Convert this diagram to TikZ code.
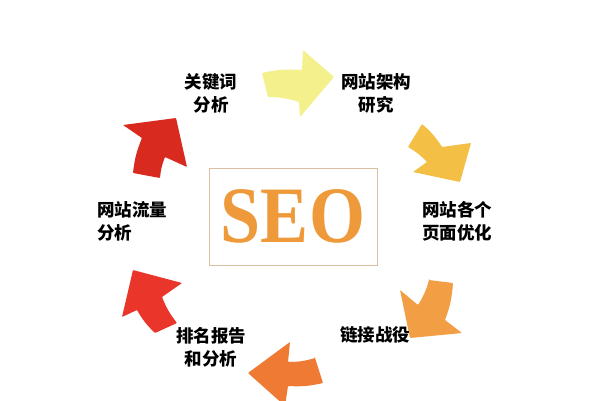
\documentclass[tikz,border=0pt]{standalone}
\usepackage{fontspec}
\setmainfont{Liberation Serif}
\newfontfamily\cjk{Noto Sans CJK SC}
\definecolor{arrowA}{HTML}{F4F08C}
\definecolor{arrowB}{HTML}{F3BF45}
\definecolor{arrowC}{HTML}{F29E45}
\definecolor{arrowD}{HTML}{EE7A33}
\definecolor{arrowE}{HTML}{E9352A}
\definecolor{arrowF}{HTML}{D82A1F}
\definecolor{seotext}{HTML}{EE9A3A}
\definecolor{boxline}{HTML}{DCBFA2}
\begin{document}
\begin{tikzpicture}[x=1pt,y=-1pt,
		lbl/.style={font=\cjk\bfseries\fontsize{17.5}{23}\selectfont,align=center,inner sep=0pt},
		arw/.style={rounded corners=0.8pt}]
		\useasboundingbox (0,0) rectangle (600,400);
		\clip (0,0) rectangle (600,400);
		\fill[white] (0,0) rectangle (600,400);
		\fill[arw,arrowA] (262,73) to[bend left=8] (302,70) -- (303,50) -- (334,77) -- (300,117) -- (299,102) to[bend right=8] (268,97) -- cycle;
		\fill[arw,arrowB] (422,124) to[bend left=8] (442,147) -- (471,143) -- (460,182) -- (413,172) -- (427,162) to[bend right=8] (408,147) -- cycle;
		\fill[arw,arrowC] (429,280) -- (453,283) to[bend left=8] (445,320) -- (462,333) -- (410,338) -- (400,290) -- (418,305) to[bend right=8] cycle;
		\fill[arw,arrowD] (315,358) -- (323,383) to[bend left=8] (288,386) -- (285,406) -- (248,373) -- (290,342) -- (288,362) to[bend right=8] cycle;
		\fill[arw,arrowE] (155,333) to[bend left=8] (137,310) -- (122,317) -- (133,270) -- (182,283) -- (162,297) to[bend right=8] (177,323) -- cycle;
		\fill[arw,arrowF] (133,173) to[bend left=8] (142,138) -- (123,125) -- (176,118) -- (187,167) -- (165,157) to[bend right=8] (160,178) -- cycle;
		\node[draw=boxline,line width=0.8pt,minimum width=168pt,minimum height=97pt,inner sep=0pt,
			text=seotext,font=\bfseries\fontsize{80}{80}\selectfont] (seo) at (293,216.5) {\scalebox{0.9}[1]{SEO}};
		\node[lbl] (kw) at (211,93.5) {关键词\\分析};
		\node[lbl] (arch) at (376,93.5) {网站架构\\研究};
		\node[lbl] (page) at (457,221) {网站各个\\页面优化};
		\node[lbl] (link) at (375,335) {链接战役};
		\node[lbl] (rank) at (211,347) {排名报告\\和分析};
		\node[lbl,align=left,anchor=west] (flow) at (97,221) {网站流量\\分析};
\end{tikzpicture}
\end{document}
